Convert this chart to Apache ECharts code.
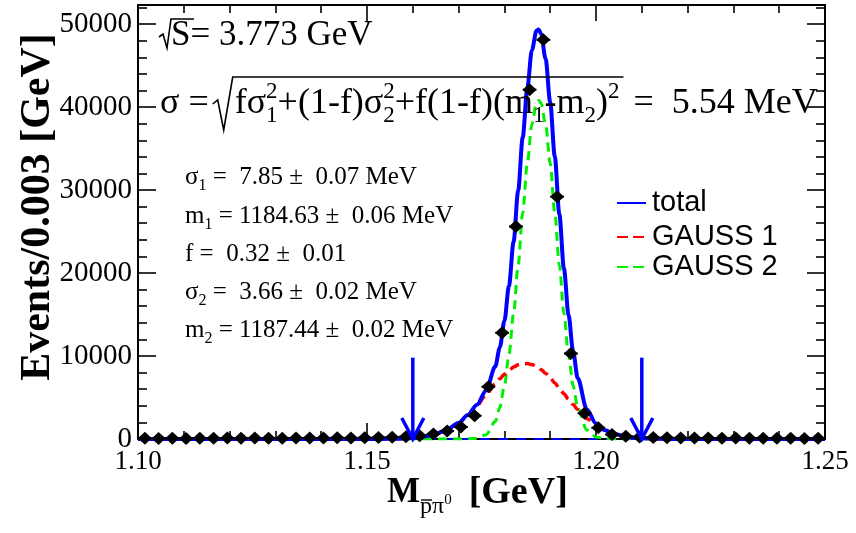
<!DOCTYPE html>
<html><head><meta charset="utf-8">
<script src="https://cdn.jsdelivr.net/npm/echarts@6/dist/echarts.min.js"></script>
<style>html,body{margin:0;padding:0;background:#fff}#c{width:856px;height:533px}</style>
</head><body><div id="c"></div>
<script>
// ---------------- data ----------------
const binCenters = [1.1015,1.1045,1.1075,1.1105,1.1135,1.1165,1.1195,1.1225,1.1255,1.1285,
  1.1315,1.1345,1.1375,1.1405,1.1435,1.1465,1.1495,1.1525,1.1555,1.1585,
  1.1615,1.1645,1.1675,1.1705,1.1735,1.1765,1.1795,1.1825,1.1855,1.1885,
  1.1915,1.1945,1.1975,1.2005,1.2035,1.2065,1.2095,1.2125,1.2155,1.2185,
  1.2215,1.2245,1.2275,1.2305,1.2335,1.2365,1.2395,1.2425,1.2455,1.2485];
const counts = [80,60,90,70,100,80,110,90,120,100,
  90,130,110,120,140,130,160,180,220,280,
  380,600,960,1450,2800,6300,12800,25600,42100,48100,
  29200,10300,3100,1350,550,320,230,170,150,130,
  120,110,100,120,90,100,80,90,70,80];
const binWidth = 0.003;

const curveX = [1.100,1.150,1.155,1.158,1.161,1.164,1.167,1.170,1.172,1.174,1.176,1.178,1.179,1.180,1.181,1.182,1.183,1.184,1.185,1.186,1.187,1.1875,1.188,1.189,1.190,1.191,1.192,1.193,1.194,1.195,1.196,1.198,1.200,1.202,1.204,1.207,1.210,1.214,1.218,1.222,1.250];
const totalY = [0,2,16,54,160,418,961,1939,2891,4129,5847,8731,11040,14225,18455,23756,29901,36351,42308,46862,49193,49361,48833,45798,40584,34035,27083,20545,14964,10571,7337,3561,1867,1052,597,239,84,17,3,0,0];
const gauss1Y = [0,2,16,54,160,418,961,1937,2876,4027,5320,6633,7247,7804,8283,8664,8933,9076,9089,8971,8727,8561,8367,7907,7365,6760,6115,5453,4792,4150,3544,2472,1627,1011,592,239,84,17,3,0,0];
const gauss2Y = [0,0,0,0,0,0,0,2,15,102,527,2098,3793,6421,10172,15092,20968,27275,33219,37891,40466,40800,40466,37891,33219,27275,20968,15092,10172,6421,3793,1089,240,41,5,0,0,0,0,0,0];

const cutPositions = [1.16, 1.21];
const cutArrowTop = 9800;

const xTickValues = [1.10, 1.15, 1.20, 1.25];
const xTickLabels = ['1.10', '1.15', '1.20', '1.25'];
const yTickValues = [0, 10000, 20000, 30000, 40000, 50000];
const yTickLabels = ['0', '10000', '20000', '30000', '40000', '50000'];

const legendNames = ['total', 'GAUSS 1', 'GAUSS 2'];
const fitLines = [
  ['σ', '1', ' =  7.85 ±  0.07 MeV'],
  ['m', '1', ' = 1184.63 ±  0.06 MeV'],
  ['f =  0.32 ±  0.01', null, ''],
  ['σ', '2', ' =  3.66 ±  0.02 MeV'],
  ['m', '2', ' = 1187.44 ±  0.02 MeV']
];

// ---------------- helpers ----------------
const SERIF = '"Liberation Serif","Times New Roman",serif';
const SANS = '"Liberation Sans",Arial,sans-serif';
const BLUE = '#0000ff', RED = '#ff0000', GREEN = '#00ee00';
const mctx = document.createElement('canvas').getContext('2d');
function measure(str, font) { mctx.font = font; return mctx.measureText(str).width; }

const G = [];
function addText(str, x, baseline, size, weight, family) {
  weight = weight || 'normal'; family = family || SERIF;
  const font = weight + ' ' + size + 'px ' + family;
  G.push({type: 'text', x: x, y: baseline - 0.34 * size, z: 100,
    style: {text: str, font: font, fill: '#000', align: 'left', textAlign: 'left',
      verticalAlign: 'middle', textVerticalAlign: 'middle'}});
  return measure(str, font);
}
function addLine(points, color, width) {
  G.push({type: 'polyline', z: 100, shape: {points: points},
    style: {stroke: color || '#000', lineWidth: width || 1.5, fill: null}});
}
// pieces: string | {sub, sup}
function addRun(pieces, x, baseline, size) {
  let cx = x;
  const s2 = Math.round(size * 0.64);
  for (const p of pieces) {
    if (typeof p === 'string') { cx += addText(p, cx, baseline, size); }
    else {
      let w = 0;
      if (p.sup != null) w = Math.max(w, addText(p.sup, cx, baseline - 0.45 * size, s2));
      if (p.sub != null) w = Math.max(w, addText(p.sub, cx, baseline + 0.22 * size, s2));
      cx += w;
    }
  }
  return cx;
}

// sqrt(S) line
addLine([[159, 37], [163, 34], [167, 48], [171, 19], [194, 19]], '#000', 1.6);
addText('S= 3.773 GeV', 171, 48, 35);

// sigma formula
(function () {
  const base = 116, size = 36;
  let x = addRun(['σ = '], 160, base, size);
  const rx = x - 5;
  const start = rx + 22;
  const end = addRun(['fσ', {sub: '1', sup: '2'}, '+(1-f)σ', {sub: '2', sup: '2'},
    '+f(1-f)(m', {sub: '1'}, '-m', {sub: '2'}, ')', {sup: '2'}], start, base, size);
  addLine([[rx, base - 12], [rx + 5, base - 16], [rx + 11, base + 14], [rx + 20, base - 39], [end + 4, base - 39]], '#000', 1.6);
  addRun([' =  5.54 MeV'], end + 5, base, size);
})();

// fit parameter lines
const fitBase = [186, 225, 263, 301, 339];
fitLines.forEach((ln, i) => {
  const pieces = [ln[0]];
  if (ln[1]) pieces.push({sub: ln[1]});
  if (ln[2]) pieces.push(ln[2]);
  addRun(pieces, 185, fitBase[i], 25);
});

// legend
const legY = [203, 237, 267];
const legColors = [BLUE, RED, GREEN];
legendNames.forEach((n, i) => {
  G.push({type: 'line', z: 100, shape: {x1: 617, y1: legY[i], x2: 646, y2: legY[i]},
    style: {stroke: legColors[i], lineWidth: 2, lineDash: i === 0 ? null : [11, 5]}});
  addText(n, 652, legY[i] + 0.34 * 29, 29, 'normal', SANS);
});

// y-axis title (rotated)
G.push({type: 'text', x: 38, y: 207, rotation: Math.PI / 2, z: 100,
  style: {text: 'Events/0.003 [GeV]', font: 'bold 42px ' + SERIF, fill: '#000',
    align: 'center', textAlign: 'center', verticalAlign: 'middle', textVerticalAlign: 'middle'}});

// x-axis title
(function () {
  const base = 505;
  let x = 387;
  x += addText('M', x, base, 35, 'bold');
  const pw = addText('p', x, base + 10, 24);
  addLine([[x + 1, base - 5], [x + pw, base - 5]], '#000', 1.4);
  x += pw;
  x += addText('π', x, base + 10, 24);
  x += addText('0', x, base, 15);
  addText('[GeV]', x + 17, base + 1, 38, 'bold');
})();

// ---------------- chart ----------------
const chart = echarts.init(document.getElementById('c'), null, {renderer: 'canvas'});
const tickStyle = {color: '#000', width: 1.6};
function xAxisCfg(pos, labels) {
  return {type: 'value', position: pos, min: 1.10, max: 1.25, interval: 0.05,
    axisLine: {show: true, onZero: false, lineStyle: {color: '#000', width: 2}},
    axisTick: {show: true, inside: true, length: 16, lineStyle: tickStyle},
    minorTick: {show: true, splitNumber: 5, length: 8, lineStyle: tickStyle},
    splitLine: {show: false}, minorSplitLine: {show: false},
    axisLabel: {show: labels, margin: 9, fontSize: 27, fontFamily: SERIF, color: '#000',
      showMinLabel: true, showMaxLabel: true,
      formatter: v => { const i = xTickValues.findIndex(t => Math.abs(t - v) < 1e-6); return i < 0 ? '' : xTickLabels[i]; }}};
}
function yAxisCfg(pos, labels) {
  return {type: 'value', position: pos, min: 0, max: 52300, interval: 10000,
    axisLine: {show: true, onZero: false, lineStyle: {color: '#000', width: 2}},
    axisTick: {show: true, inside: true, length: 18, lineStyle: tickStyle},
    minorTick: {show: true, splitNumber: 5, length: 9, lineStyle: tickStyle},
    splitLine: {show: false}, minorSplitLine: {show: false},
    axisLabel: {show: labels, margin: 6, fontSize: 29, fontFamily: SERIF, color: '#000',
      formatter: v => { const i = yTickValues.findIndex(t => Math.abs(t - v) < 1e-6); return i < 0 ? '' : yTickLabels[i]; }}};
}
const pairs = (xs, ys) => xs.map((x, i) => [x, ys[i]]);

chart.setOption({
  animation: false,
  backgroundColor: '#fff',
  grid: {left: 138, right: 31, top: 5, bottom: 94, containLabel: false},
  xAxis: [xAxisCfg('bottom', true), xAxisCfg('top', false)],
  yAxis: [yAxisCfg('left', true), yAxisCfg('right', false)],
  series: [
    {name: 'background', type: 'line', data: [[1.10, 0], [1.25, 0]], showSymbol: false, z: 2,
      lineStyle: {color: BLUE, width: 2, type: [10, 8]}},
    {name: 'GAUSS 2', type: 'line', data: pairs(curveX, gauss2Y), showSymbol: false, z: 3,
      smooth: 0.3, smoothMonotone: 'x', lineStyle: {color: GREEN, width: 3, type: [9, 6]}},
    {name: 'GAUSS 1', type: 'line', data: pairs(curveX, gauss1Y), showSymbol: false, z: 4,
      smooth: 0.3, smoothMonotone: 'x', lineStyle: {color: RED, width: 3.5, type: [10, 6]}},
    {name: 'total', type: 'line', data: pairs(curveX, totalY), showSymbol: false, z: 5,
      smooth: 0.3, smoothMonotone: 'x', lineStyle: {color: BLUE, width: 4}},
    {name: 'data', type: 'custom', coordinateSystem: 'cartesian2d', z: 6,
      data: pairs(binCenters, counts), encode: {x: 0, y: 1},
      renderItem: (params, api) => {
        const x = api.value(0), y = api.value(1);
        const p = api.coord([x, y]);
        const l = api.coord([x - binWidth / 2, y]);
        const r = api.coord([x + binWidth / 2, y]);
        return {type: 'group', children: [
          {type: 'line', shape: {x1: l[0], y1: l[1], x2: r[0], y2: r[1]}, style: {stroke: '#000', lineWidth: 2}},
          {type: 'polygon', shape: {points: [[p[0] - 7, p[1]], [p[0], p[1] - 6.5], [p[0] + 7, p[1]], [p[0], p[1] + 6.5]]},
            style: {fill: '#000'}}
        ]};
      }},
    {name: 'cuts', type: 'custom', coordinateSystem: 'cartesian2d', z: 7,
      data: cutPositions.map(c => [c, cutArrowTop]), encode: {x: 0, y: 1},
      renderItem: (params, api) => {
        const x = api.value(0);
        const t = api.coord([x, api.value(1)]);
        const b = api.coord([x, 0]);
        return {type: 'group', children: [
          {type: 'line', shape: {x1: t[0], y1: t[1], x2: b[0], y2: b[1]}, style: {stroke: BLUE, lineWidth: 3.5}},
          {type: 'polyline', shape: {points: [[b[0] - 11, b[1] - 21], [b[0], b[1]], [b[0] + 11, b[1] - 21]]},
            style: {stroke: BLUE, lineWidth: 3.5, fill: null}}
        ]};
      }}
  ],
  graphic: G
});
</script>
</body></html>
